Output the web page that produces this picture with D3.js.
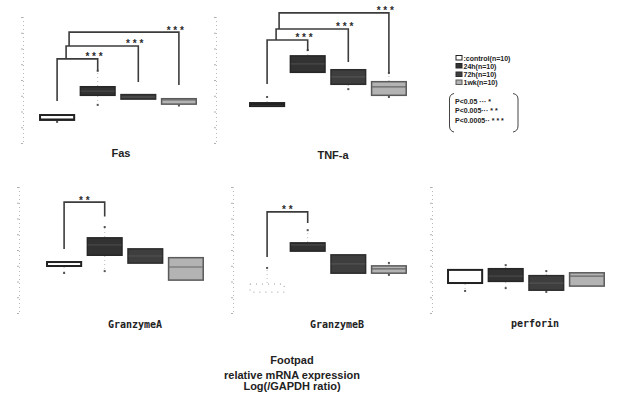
<!DOCTYPE html>
<html><head><meta charset="utf-8">
<script src="https://cdn.jsdelivr.net/npm/d3@7"></script>
<style>
html,body{margin:0;padding:0;background:#fff;}
svg{display:block;}
</style></head><body>
<svg id="chart" width="617" height="395"></svg>
<script>
// Footpad relative mRNA expression, Log(/GAPDH ratio), box plots per gene
const genes = ["Fas", "TNF-a", "GranzymeA", "GranzymeB", "perforin"];
const groups = ["control", "24h", "72h", "1wk"];
const groupN = [10, 10, 10, 10];

// per gene (rows) and group (columns)
const whiskerLow = [
  [-3.33, -2.79, -2.63, -2.81],
  [-2.86, -1.78, -2.29, -2.54],
  [-2.73, -2.67, -2.44, -2.98],
  [-3.37, -2.06, -2.76, -2.79],
  [-3.30, -3.21, -3.33, -3.17]
];
const quartile1 = [
  [-3.30, -2.51, -2.63, -2.79],
  [-2.86, -1.78, -2.16, -2.51],
  [-2.54, -2.19, -2.44, -2.98],
  [-3.37, -2.06, -2.76, -2.76],
  [-3.08, -3.02, -3.30, -3.17]
];
const medians = [
  [-3.24, -2.35, -2.54, -2.63],
  [-2.78, -1.49, -1.90, -2.22],
  [-2.51, -1.84, -2.19, -2.54],
  [-3.17, -1.84, -2.44, -2.60],
  [-3.05, -2.83, -3.05, -2.83]
];
const quartile3 = [
  [-3.08, -2.19, -2.44, -2.57],
  [-2.70, -1.21, -1.65, -2.03],
  [-2.35, -1.59, -1.94, -2.22],
  [-3.05, -1.75, -2.13, -2.48],
  [-2.60, -2.57, -2.79, -2.70]
];
const whiskerHigh = [
  [-3.08, -1.71, -2.44, -2.57],
  [-2.54, -1.05, -1.65, -1.78],
  [-2.35, -1.27, -1.94, -2.22],
  [-2.57, -1.37, -2.13, -2.41],
  [-2.60, -2.48, -2.67, -2.70]
];

// significance brackets (control vs. treated group)
const bracketGene = ["Fas", "Fas", "Fas", "TNF-a", "TNF-a", "TNF-a", "GranzymeA", "GranzymeB"];
const bracketTo = [1, 2, 3, 1, 2, 3, 1, 1];
const bracketTop = [-1.33, -0.92, -0.48, -0.73, -0.38, 0.13, -0.48, -0.79];
const bracketLeftBase = [-2.67, -1.33, -0.92, -2.13, -0.73, -0.38, -1.97, -2.22];
const bracketRightBase = [-1.71, -2.06, -2.16, -1.08, -1.43, -1.78, -0.94, -1.14];
const bracketStars = [3, 3, 3, 3, 3, 3, 2, 2];

const pLevels = ["P<0.05", "P<0.005", "P<0.0005"];
const pStars = [1, 2, 3];
const footerLines = ["Footpad", "relative mRNA expression", "Log(/GAPDH ratio)"];
const yDomain = [-4, 0];

// ---- layout & style ----
const svg = d3.select("#chart");
const rowRange = [[143, 17], [313, 187]];
const layout = {
  "Fas":       {x0: 37,  x1: 199, row: 0, axisX: 23,  titleX: 121, titleY: 157, mono: false},
  "TNF-a":     {x0: 247, x1: 409, row: 0, axisX: 216, titleX: 333, titleY: 159, mono: false},
  "GranzymeA": {x0: 44,  x1: 206, row: 1, axisX: 19,  titleX: 135, titleY: 328, mono: true},
  "GranzymeB": {x0: 247, x1: 409, row: 1, axisX: 233, titleX: 337, titleY: 328, mono: true},
  "perforin":  {x0: 445, x1: 607, row: 1, axisX: 432, titleX: 535, titleY: 327, mono: true}
};
const fillOf   = {control: "#ffffff", "24h": "#323232", "72h": "#3e3e3e", "1wk": "#b3b3b3"};
const strokeOf = {control: "#222222", "24h": "#262626", "72h": "#2c2c2c", "1wk": "#5a5a5a"};
const medOf    = {control: "#222222", "24h": "#484848", "72h": "#525252", "1wk": "#666666"};
const faintControl = new Set(["GranzymeB"]);

const scales = {};
genes.forEach((g, gi) => {
  const L = layout[g];
  const y = d3.scaleLinear().domain(yDomain).range(rowRange[L.row]);
  const x = d3.scaleBand().domain(groups).range([L.x0, L.x1])
    .paddingInner(0.11).paddingOuter(0.05);
  scales[g] = {x, y};

  const axis = svg.append("g")
    .attr("transform", `translate(${L.axisX},0)`)
    .call(d3.axisLeft(y).ticks(10).tickSize(2).tickFormat(""));
  axis.select(".domain").attr("stroke", "#b8b8b8").attr("stroke-dasharray", "1,3");
  axis.selectAll(".tick line").attr("stroke", "#b0b0b0");

  const pg = svg.append("g");
  groups.forEach((grp, k) => {
    const cx = x(grp) + x.bandwidth() / 2;
    const lo = whiskerLow[gi][k], q1 = quartile1[gi][k], md = medians[gi][k],
          q3 = quartile3[gi][k], hi = whiskerHigh[gi][k];
    const faint = grp === "control" && faintControl.has(g);

    // whiskers
    [[q3, hi], [q1, lo]].forEach(([a, b]) => {
      if (a !== b) {
        pg.append("line").attr("x1", cx).attr("x2", cx)
          .attr("y1", y(a)).attr("y2", y(b))
          .attr("stroke", "#a5a5a5").attr("stroke-width", 0.8).attr("stroke-dasharray", "1,3");
        pg.append("rect").attr("x", cx - 1).attr("y", y(b) - 1)
          .attr("width", 2).attr("height", 2).attr("fill", "#555");
      }
    });

    const inset = grp === "control" ? 1 : 0.75;
    pg.append("rect")
      .attr("x", x(grp) + inset).attr("y", y(q3) + inset)
      .attr("width", x.bandwidth() - 2 * inset)
      .attr("height", Math.max(0.5, y(q1) - y(q3) - 2 * inset))
      .attr("fill", fillOf[grp])
      .attr("stroke", faint ? "#9a9a9a" : strokeOf[grp])
      .attr("stroke-width", faint ? 1 : (grp === "control" ? 2 : 1.5))
      .attr("stroke-dasharray", faint ? "1,5" : null);
    if (!faint) {
      pg.append("line")
        .attr("x1", x(grp) + 1).attr("x2", x(grp) + x.bandwidth() - 1)
        .attr("y1", y(md)).attr("y2", y(md))
        .attr("stroke", medOf[grp]).attr("stroke-width", 1.2);
    }
  });

  svg.append("text")
    .attr("x", L.titleX).attr("y", L.titleY)
    .attr("text-anchor", "middle")
    .attr("font-family", L.mono ? "DejaVu Sans Mono" : "Liberation Sans, Arial, sans-serif")
    .attr("font-weight", "bold")
    .attr("font-size", L.mono ? 10 : 11)
    .attr("fill", "#222")
    .text(g);
});

// brackets
const levelOf = {};
bracketGene.forEach((g, i) => {
  const {x, y} = scales[g];
  const level = levelOf[g] = (levelOf[g] === undefined ? 0 : levelOf[g] + 1);
  const nested = bracketGene.filter(d => d === g).length > 1;
  const lx = x(groups[0]) + x.bandwidth() / 2 + (level === 0 ? 0 : 6 + 3 * level);
  const rx = x(groups[bracketTo[i]]) + x.bandwidth() / 2;
  svg.append("path")
    .attr("d", `M${lx},${y(bracketLeftBase[i])}V${y(bracketTop[i])}H${rx}V${y(bracketRightBase[i])}`)
    .attr("fill", "none").attr("stroke", "#3c3c3c").attr("stroke-width", 1.6);
  svg.append("text")
    .attr("x", nested ? rx + 5 : (lx + rx) / 2)
    .attr("y", y(bracketTop[i]) + 1.5)
    .attr("text-anchor", nested ? "end" : "middle")
    .attr("font-family", "Liberation Sans, Arial, sans-serif")
    .attr("font-weight", "bold").attr("font-size", 10).attr("fill", "#2a2a2a")
    .text(Array(bracketStars[i]).fill("*").join(" "));
});

// legend
const lg = svg.append("g").attr("font-family", "Liberation Sans, Arial, sans-serif")
  .attr("font-weight", "bold").attr("font-size", 7).attr("fill", "#222");
const legTop = [55.5, 63.5, 72, 80];
groups.forEach((grp, k) => {
  lg.append("rect").attr("x", 456).attr("y", legTop[k]).attr("width", 6).attr("height", 4.5)
    .attr("fill", fillOf[grp]).attr("stroke", strokeOf[grp]).attr("stroke-width", 1);
  lg.append("text").attr("x", 463.5).attr("y", legTop[k] + 5)
    .text(`${k === 0 ? ":" : ""}${grp}(n=${groupN[k]})`);
});
const pBase = [104, 113, 122.5];
pLevels.forEach((p, k) => {
  const dots = k === 2 ? "··" : "···";
  lg.append("text").attr("x", 455).attr("y", pBase[k])
    .text(`${p}${k === 0 ? " " : ""}${dots} ${Array(pStars[k]).fill("*").join(" ")}`);
});
svg.append("path")
  .attr("d", "M454,93.5Q449.5,94.5 449.5,99V126Q449.5,131 454,132")
  .attr("fill", "none").attr("stroke", "#444").attr("stroke-width", 1);
svg.append("path")
  .attr("d", "M513,93.5Q518,94.5 518,99V126Q518,131 513,132")
  .attr("fill", "none").attr("stroke", "#444").attr("stroke-width", 1);

// footer
const footY = [364, 379, 390];
footerLines.forEach((t, k) => {
  svg.append("text").attr("x", 292).attr("y", footY[k]).attr("text-anchor", "middle")
    .attr("font-family", "Liberation Sans, Arial, sans-serif")
    .attr("font-weight", "bold")
    .attr("font-size", 11).attr("fill", "#222").text(t);
});
</script>
</body></html>
